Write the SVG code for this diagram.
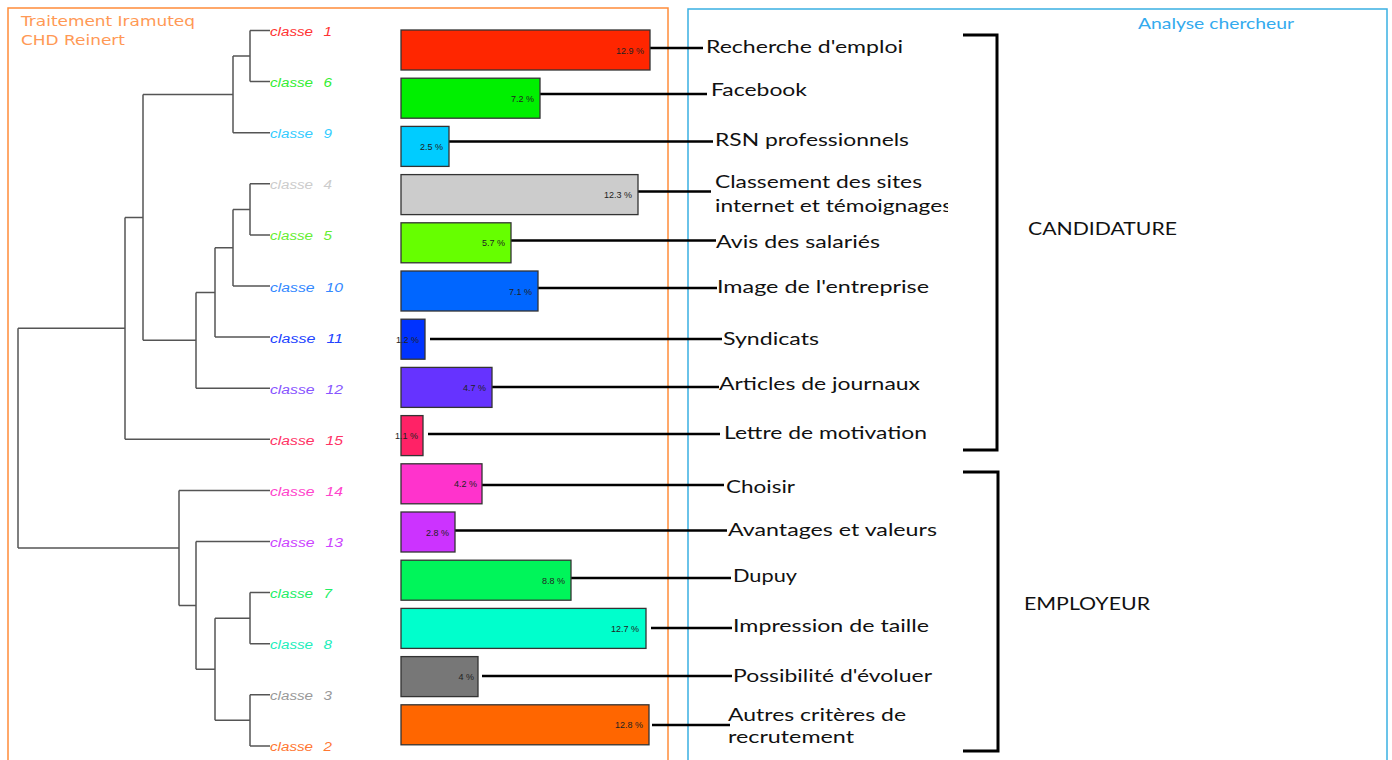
<svg xmlns="http://www.w3.org/2000/svg" width="1392" height="760" viewBox="0 0 1392 760">
<style>
.frame{fill:none;stroke-width:1.5}
.title{font-family:"DejaVu Sans",sans-serif;font-size:14px;fill:#ff9955}
.cls{font-family:"Liberation Sans",Arial,sans-serif;font-style:italic;font-size:12px;word-spacing:5px}
.bar{stroke:#333;stroke-width:1.3}
.pct{font-family:"Liberation Sans",Arial,sans-serif;font-size:9px;fill:#222;text-anchor:end}
.lbl{font-family:Lato,"Open Sans",sans-serif;font-size:18px;fill:#111}
.cat{font-family:Lato,"Open Sans",sans-serif;font-size:17px;fill:#111}
.tree{fill:none;stroke:#555;stroke-width:1.5}
.conn{fill:none;stroke:#000;stroke-width:2.5}
.brk{fill:none;stroke:#000;stroke-width:3}
</style>
<defs>
<clipPath id="clipS"><rect x="700" y="195" width="248" height="25"/></clipPath>
</defs>
<rect width="1392" height="760" fill="#fff"/>
<g id="frames">
<rect class="frame" x="8" y="8" width="660" height="770" stroke="#ff8c3a"/>
<rect class="frame" x="688" y="9" width="699" height="770" stroke="#3ab0e2"/>
<text class="title" x="21" y="26" textLength="174" lengthAdjust="spacingAndGlyphs">Traitement Iramuteq</text>
<text class="title" x="21" y="45" textLength="104" lengthAdjust="spacingAndGlyphs">CHD Reinert</text>
<text x="1138" y="29" font-family="Lato,'Open Sans',sans-serif" font-size="15" fill="#33aaee" textLength="156" lengthAdjust="spacingAndGlyphs">Analyse chercheur</text>
</g>
<g id="connectors">
<path class="tree" d="M250,30.5H270M250,81.6H270M250,30.5V81.6M233,56H250M233,132.7H270M233,56V132.7M143,94.4H233
M250,183.8H270M250,234.9H270M250,183.8V234.9M233,209.4H250M233,286H270M233,209.4V286M215,247.7H233M215,337.1H270M215,247.7V337.1M196,292.4H215M196,388.2H270M196,292.4V388.2M143,340.3H196
M143,94.4V340.3M125,217.4H143M125,439.3H270M125,217.4V439.3M18,328.3H125
M250,592.6H270M250,643.7H270M250,592.6V643.7M215,618.2H250M250,694.8H270M250,745.9H270M250,694.8V745.9M215,720.3H250M215,618.2V720.3M196,669.3H215M196,541.5H270M196,541.5V669.3M179,605.4H196M179,490.4H270M179,490.4V605.4M18,548H179M18,328.3V548"/>
<path class="conn" d="M650,48H703M540,94H707M449,141.5H713M638,191.5H711M511,240.5H716M538,288H717M430,339H722M492,387H719M428,434H720M482,485H724M455,530.5H727M571,578H731M651,628H732M482,676H732M652,725H730"/>
</g>
<g id="class1"><text class="cls" x="270" y="36" fill="#ff3333" textLength="62" lengthAdjust="spacingAndGlyphs">classe 1</text><rect class="bar" x="401" y="30" width="249" height="40" fill="#ff2600"/><text class="pct" x="644" y="53.5">12.9 %</text></g>
<g id="class6"><text class="cls" x="270" y="87" fill="#33ee33" textLength="62" lengthAdjust="spacingAndGlyphs">classe 6</text><rect class="bar" x="401" y="78.2" width="139" height="40" fill="#00f000"/><text class="pct" x="534" y="101.7">7.2 %</text></g>
<g id="class9"><text class="cls" x="270" y="138.2" fill="#33ccff" textLength="62" lengthAdjust="spacingAndGlyphs">classe 9</text><rect class="bar" x="401" y="126.4" width="48" height="40" fill="#00ccff"/><text class="pct" x="443" y="149.9">2.5 %</text></g>
<g id="class4"><text class="cls" x="270" y="189.3" fill="#cccccc" textLength="62" lengthAdjust="spacingAndGlyphs">classe 4</text><rect class="bar" x="401" y="174.6" width="237" height="40" fill="#cccccc"/><text class="pct" x="632" y="198.1">12.3 %</text></g>
<g id="class5"><text class="cls" x="270" y="240.4" fill="#66ee33" textLength="62" lengthAdjust="spacingAndGlyphs">classe 5</text><rect class="bar" x="401" y="222.8" width="110" height="40" fill="#66ff00"/><text class="pct" x="505" y="246.3">5.7 %</text></g>
<g id="class10"><text class="cls" x="270" y="291.5" fill="#3388ff" textLength="73" lengthAdjust="spacingAndGlyphs">classe 10</text><rect class="bar" x="401" y="271" width="137" height="40" fill="#0066ff"/><text class="pct" x="532" y="294.5">7.1 %</text></g>
<g id="class11"><text class="cls" x="270" y="342.6" fill="#2244ff" textLength="73" lengthAdjust="spacingAndGlyphs">classe 11</text><rect class="bar" x="401" y="319.2" width="24" height="40" fill="#0033ff"/><text class="pct" x="419" y="342.7">1.2 %</text></g>
<g id="class12"><text class="cls" x="270" y="393.7" fill="#8855ff" textLength="73" lengthAdjust="spacingAndGlyphs">classe 12</text><rect class="bar" x="401" y="367.4" width="91" height="40" fill="#6633ff"/><text class="pct" x="486" y="390.9">4.7 %</text></g>
<g id="class15"><text class="cls" x="270" y="444.8" fill="#ff3366" textLength="73" lengthAdjust="spacingAndGlyphs">classe 15</text><rect class="bar" x="401" y="415.6" width="22" height="40" fill="#ff2266"/><text class="pct" x="418" y="439.1">1.1 %</text></g>
<g id="class14"><text class="cls" x="270" y="495.9" fill="#ff44cc" textLength="73" lengthAdjust="spacingAndGlyphs">classe 14</text><rect class="bar" x="401" y="463.8" width="81" height="40" fill="#ff33cc"/><text class="pct" x="477" y="487.3">4.2 %</text></g>
<g id="class13"><text class="cls" x="270" y="547" fill="#cc44ff" textLength="73" lengthAdjust="spacingAndGlyphs">classe 13</text><rect class="bar" x="401" y="512" width="54" height="40" fill="#cc33ff"/><text class="pct" x="449" y="535.5">2.8 %</text></g>
<g id="class7"><text class="cls" x="270" y="598.1" fill="#22ee66" textLength="62" lengthAdjust="spacingAndGlyphs">classe 7</text><rect class="bar" x="401" y="560.2" width="170" height="40" fill="#00f55a"/><text class="pct" x="565" y="583.7">8.8 %</text></g>
<g id="class8"><text class="cls" x="270" y="649.2" fill="#22eebb" textLength="62" lengthAdjust="spacingAndGlyphs">classe 8</text><rect class="bar" x="401" y="608.4" width="245" height="40" fill="#00ffcc"/><text class="pct" x="639" y="631.9">12.7 %</text></g>
<g id="class3"><text class="cls" x="270" y="700.3" fill="#999999" textLength="62" lengthAdjust="spacingAndGlyphs">classe 3</text><rect class="bar" x="401" y="656.6" width="77" height="40" fill="#777777"/><text class="pct" x="474" y="680.1">4 %</text></g>
<g id="class2"><text class="cls" x="270" y="751.4" fill="#ff7733" textLength="62" lengthAdjust="spacingAndGlyphs">classe 2</text><rect class="bar" x="401" y="704.8" width="248" height="40" fill="#ff6600"/><text class="pct" x="643" y="728.3">12.8 %</text></g>
<g id="labels">
<text class="lbl" x="706" y="53" textLength="197" lengthAdjust="spacingAndGlyphs">Recherche d'emploi</text>
<text class="lbl" x="711" y="96" textLength="96" lengthAdjust="spacingAndGlyphs">Facebook</text>
<text class="lbl" x="715" y="145.5" textLength="194" lengthAdjust="spacingAndGlyphs">RSN professionnels</text>
<text class="lbl" x="715" y="188" textLength="207" lengthAdjust="spacingAndGlyphs">Classement des sites</text>
<text class="lbl" x="715" y="211.5" textLength="237" lengthAdjust="spacingAndGlyphs" clip-path="url(#clipS)">internet et témoignages</text>
<text class="lbl" x="716" y="248" textLength="164" lengthAdjust="spacingAndGlyphs">Avis des salariés</text>
<text class="lbl" x="717" y="292.5" textLength="212" lengthAdjust="spacingAndGlyphs">Image de l'entreprise</text>
<text class="lbl" x="723" y="345" textLength="96" lengthAdjust="spacingAndGlyphs">Syndicats</text>
<text class="lbl" x="719" y="390" textLength="201" lengthAdjust="spacingAndGlyphs">Articles de journaux</text>
<text class="lbl" x="724" y="439" textLength="203" lengthAdjust="spacingAndGlyphs">Lettre de motivation</text>
<text class="lbl" x="726" y="493" textLength="69" lengthAdjust="spacingAndGlyphs">Choisir</text>
<text class="lbl" x="728" y="536" textLength="209" lengthAdjust="spacingAndGlyphs">Avantages et valeurs</text>
<text class="lbl" x="733" y="581.5" textLength="64" lengthAdjust="spacingAndGlyphs">Dupuy</text>
<text class="lbl" x="733" y="631.5" textLength="196" lengthAdjust="spacingAndGlyphs">Impression de taille</text>
<text class="lbl" x="733" y="681.5" textLength="199" lengthAdjust="spacingAndGlyphs">Possibilité d'évoluer</text>
<text class="lbl" x="728" y="721" textLength="178" lengthAdjust="spacingAndGlyphs">Autres critères de</text>
<text class="lbl" x="728" y="743" textLength="126" lengthAdjust="spacingAndGlyphs">recrutement</text>
</g>
<g id="candidature">
<path class="brk" d="M963,35H997V450H963"/>
<text class="cat" x="1028" y="235" textLength="149" lengthAdjust="spacingAndGlyphs">CANDIDATURE</text>
</g>
<g id="employeur">
<path class="brk" d="M963,472H998V751H963"/>
<text class="cat" x="1024" y="610" textLength="126" lengthAdjust="spacingAndGlyphs">EMPLOYEUR</text>
</g>
</svg>
